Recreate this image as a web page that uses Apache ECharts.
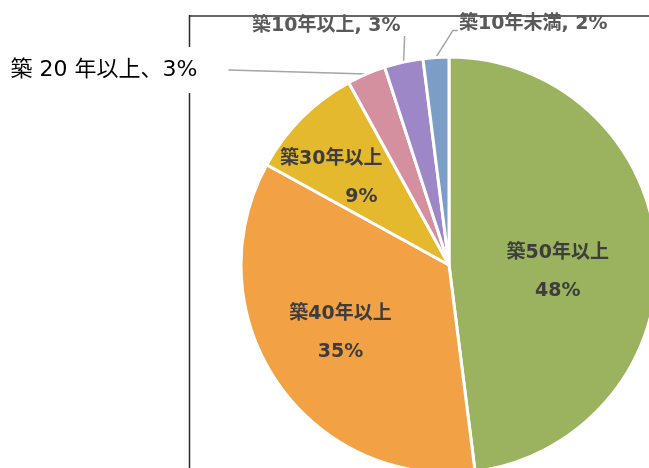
<!DOCTYPE html>
<html>
<head>
<meta charset="utf-8">
<script src="https://cdn.jsdelivr.net/npm/echarts@6/dist/echarts.min.js"></script>
<style>
  html, body { margin: 0; padding: 0; background: #fff; }
  #chart { width: 649px; height: 468px; }
</style>
</head>
<body>
<div id="chart"></div>
<script>
// 築年数別の構成比（％）
const categories = ['築50年以上', '築40年以上', '築30年以上', '築20年以上', '築10年以上', '築10年未満'];
const shares = [48, 35, 9, 3, 3, 2];
const sliceColors = ['#9BB35F', '#F2A245', '#E5B92E', '#D4909F', '#9E87C6', '#7C9DC6'];

// pie geometry
const CENTER = [449, 265];
const RADIUS = 208;

const FONT = '"DejaVu Sans", "Noto Sans CJK JP", sans-serif';
const total = shares.reduce((s, v) => s + v, 0);

// point on the rim at the middle of slice i (clockwise from 12 o'clock)
function rimPoint(i) {
  let before = 0;
  for (let k = 0; k < i; k++) before += shares[k];
  const theta = (before + shares[i] / 2) / total * Math.PI * 2;
  return [CENTER[0] + RADIUS * Math.sin(theta), CENTER[1] - RADIUS * Math.cos(theta)];
}

// small shifts for the labels that sit inside the large slices
const insideNudge = [[2, 14], [-20, 8], [-42, -11]];

const insideLabel = {
  show: true,
  position: 'inside',
  formatter: '{b}\n\n{c}%',
  fontFamily: FONT,
  fontSize: 19,
  fontWeight: 'bold',
  lineHeight: 19,
  color: '#3d3d3d'
};

const outsideLabel = {
  show: true,
  position: 'outside',
  fontFamily: FONT,
  fontSize: 19,
  fontWeight: 'bold',
  color: '#595959',
  formatter: '{b}, {c}%'
};

const seriesData = categories.map((name, i) => {
  const item = { name: name, value: shares[i], itemStyle: { color: sliceColors[i] } };
  if (i < 3) {
    item.label = Object.assign({}, insideLabel);
    item.labelLine = { show: false };
    if (i === 2) {
      item.label.formatter = '{n|{b}}\n\n{p|{c}%}';
      item.label.rich = {
        n: { fontFamily: FONT, fontSize: 19, fontWeight: 'bold', color: '#3d3d3d', lineHeight: 19 },
        p: { fontFamily: FONT, fontSize: 19, fontWeight: 'bold', color: '#3d3d3d', lineHeight: 19, padding: [0, 0, 0, 60] }
      };
    }
  } else {
    item.label = Object.assign({}, outsideLabel);
    item.labelLine = { show: true, length: 10, length2: 10, lineStyle: { color: '#a5a5a5', width: 1.5 } };
    if (i === 3) {
      item.label.formatter = p => p.name.replace(/(\d+)/, ' $1 ') + '、' + p.value + '%';
      item.label.fontSize = 22;
      item.label.fontWeight = 'normal';
      item.label.color = '#000';
      item.label.backgroundColor = '#fff';
      item.label.padding = [14, 2, 10, 4];
    }
  }
  return item;
});

const chart = echarts.init(document.getElementById('chart'), null, { renderer: 'canvas' });

chart.setOption({
  animation: false,
  backgroundColor: '#fff',
  graphic: [
    {
      type: 'line', z: 0,
      shape: { x1: 189, y1: 16, x2: 649, y2: 16 },
      style: { stroke: '#666', lineWidth: 2 }
    },
    {
      type: 'line', z: 0,
      shape: { x1: 189.5, y1: 15, x2: 189.5, y2: 468 },
      style: { stroke: '#2a2a2a', lineWidth: 1.5 }
    }
  ],
  series: [{
    type: 'pie',
    center: CENTER,
    radius: RADIUS,
    startAngle: 90,
    clockwise: true,
    avoidLabelOverlap: false,
    emphasis: { disabled: true },
    itemStyle: { borderColor: '#fff', borderWidth: 3 },
    data: seriesData,
    labelLayout: function (p) {
      const i = p.dataIndex;
      if (i < 3) {
        return { dx: insideNudge[i][0], dy: insideNudge[i][1] };
      }
      const r = rimPoint(i);
      if (i === 3) {
        const end = [r[0] - 138, r[1] - 4];
        return {
          x: end[0] - 29, y: end[1], align: 'right', verticalAlign: 'middle',
          labelLinePoints: [r, end]
        };
      }
      if (i === 4) {
        const end = [r[0] + 1, r[1] - 26];
        return {
          x: r[0] - 3, y: r[1] - 36, align: 'right', verticalAlign: 'middle',
          labelLinePoints: [r, end]
        };
      }
      const bend = [r[0] + 17, r[1] - 27];
      const end = [r[0] + 22, r[1] - 27];
      return {
        x: end[0] + 1, y: r[1] - 33, align: 'left', verticalAlign: 'middle',
        labelLinePoints: [r, bend, end]
      };
    }
  }]
});
</script>
</body>
</html>
